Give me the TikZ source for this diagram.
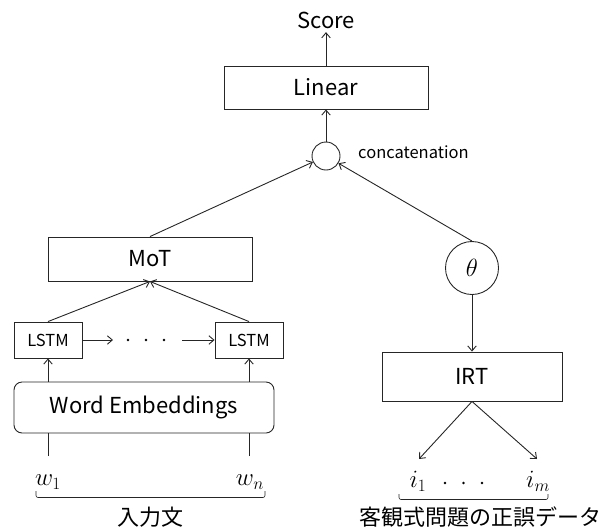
\documentclass[tikz,border=0pt]{standalone}
\usepackage{fontspec}
\setmainfont{Noto Sans CJK JP}
\usetikzlibrary{positioning, arrows.meta}

\tikzset{
    layer/.style={draw, rectangle, inner sep=0pt},
    smallbox/.style={layer, minimum width=68, minimum height=36, font=\fontsize{16.5}{19}\selectfont},
    unit/.style={draw, circle, inner sep=0pt},
    mathlbl/.style={font=\fontsize{24}{28}\selectfont},
    bracket/.style={line width=0.6pt, rounded corners=2pt}
}

\begin{document}
\begin{tikzpicture}[x=1pt, y=-1pt, line width=0.9pt, draw=black!85,
    >={Straight Barb[length=5pt, width=8.5pt]},
    font=\fontsize{22}{26}\selectfont]
    \useasboundingbox (0,0) rectangle (609,530);

    % 1. Output side
    \node (score) at (326,20) {Score};
    \node[layer, minimum width=204, minimum height=43] (linear) at (326,87.5) {Linear};
    \node[unit, minimum size=28] (cat) at (326,156) {};
    \node[right=14pt of cat, yshift=4pt, font=\fontsize{16.5}{19}\selectfont] (catlbl) {concatenation};
    \draw[->] (linear) -- (score);
    \draw[->] (cat) -- (linear);

    % 2. Essay branch
    \node[layer, minimum width=204, minimum height=44] (mot) at (150,259) {MoT};
    \node[smallbox] (lstma) at (48,340) {LSTM};
    \node[smallbox] (lstmb) at (249,340) {LSTM};
    \coordinate (dotsl) at (113,340);
    \coordinate (dotsr) at (182,340);
    \foreach \i in {0,1,2} {
        \fill (128+18*\i,340) circle(1.3);
    }
    \node[draw, rounded corners=8pt, minimum width=260, minimum height=51, inner sep=0pt] (we) at (144,407.5) {Word Embeddings};
    \draw[->] (lstma) -- (dotsl);
    \draw[->] (dotsr) -- (lstmb);
    \draw[->] (lstma.north) -- (mot.south);
    \draw[->] (lstmb.north) -- (mot.south);
    \draw[->] (we.north -| lstma) -- (lstma.south);
    \draw[->] (we.north -| lstmb) -- (lstmb.south);
    \draw[->] (mot.north) -- (cat);

    % inputs
    \node[mathlbl] (wa) at (48,482) {$w_1$};
    \node[mathlbl] (wb) at (250,482) {$w_n$};
    \coordinate (ina) at (48,456);
    \coordinate (inb) at (249,456);
    \draw (ina) -- (ina |- we.south);
    \draw (inb) -- (inb |- we.south);
    \draw[bracket] (36,491) -- (36,497.5) -- (265,497.5) -- (265,491);
    \node (sentence) at (150,517) {入力文};

    % 3. IRT branch
    \node[unit, minimum size=53, mathlbl] (theta) at (472,268) {$\theta$};
    \node[layer, minimum width=180, minimum height=49] (irt) at (472,376.5) {IRT};
    \draw[->] (theta.north) -- (cat);
    \draw[->] (theta) -- (irt);
    \node[mathlbl] (ia) at (418,481) {$i_1$};
    \node[mathlbl] (ib) at (538,481) {$i_m$};
    \foreach \i in {0,1,2} {
        \fill (445+18.5*\i,483) circle(1.3);
    }
    \coordinate (outa) at (419,459);
    \coordinate (outb) at (537,459);
    \draw[->] (irt.south) -- (outa);
    \draw[->] (irt.south) -- (outb);
    \draw[bracket] (399,494) -- (399,499.5) -- (548,499.5) -- (548,494);
    \node (items) at (480,517) {客観式問題の正誤データ};
\end{tikzpicture}
\end{document}
